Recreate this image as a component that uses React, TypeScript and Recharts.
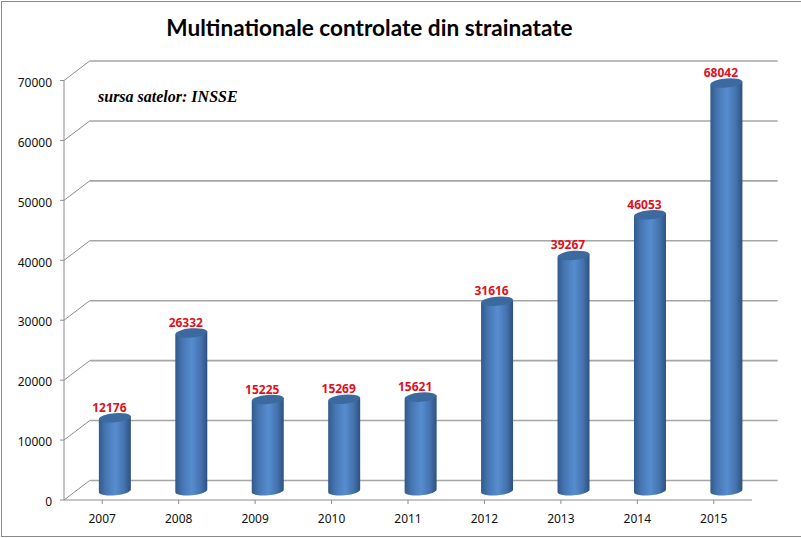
import { BarChart, Bar, XAxis, YAxis, CartesianGrid, LabelList } from "recharts";

const years = ["2007", "2008", "2009", "2010", "2011", "2012", "2013", "2014", "2015"];
const companies = [12176, 26332, 15225, 15269, 15621, 31616, 39267, 46053, 68042];
const yTicks = [0, 10000, 20000, 30000, 40000, 50000, 60000, 70000];

const chartData = years.map((year, i) => ({ year, companies: companies[i] }));

// depth of the fake 3D box (back wall is shifted by this much)
const DEPTH_X = 25.7;
const DEPTH_Y = 19.5;
const AXIS_COLOR = "#8c8c8c";
const GRID_COLOR = "#a6a6a6";
const AXIS_FONT = { fontSize: 12, fontFamily: "'Noto Sans'", fill: "#111" };

const GridLine = (props: any) => {
  const { x1, x2, y1 } = props;
  return (
    <g fill="none">
      <path d={`M${x1} ${y1}L${x1 + DEPTH_X} ${y1 - DEPTH_Y}`} stroke={AXIS_COLOR} strokeWidth={1} />
      <path d={`M${x1 + DEPTH_X} ${y1 - DEPTH_Y}H${x2 + DEPTH_X}`} stroke={GRID_COLOR} strokeWidth={1.6} />
    </g>
  );
};

// bars stand in the middle of the floor depth
const Cylinder = (props: any) => {
  const { x, y, width, height } = props;
  const left = x + DEPTH_X / 2;
  const top = y - DEPTH_Y / 2 + 0.5;
  const right = left + width;
  const bottom = top + height;
  const rx = width / 2;
  const ry = 4.6;
  const cx = left + rx;
  return (
    <g>
      <path
        d={`M${left} ${top + 1.5}L${left} ${bottom + 1.5}A${rx} ${ry} -5 0 0 ${right} ${bottom - 1.5}L${right} ${top - 1.5}Z`}
        fill="url(#cylinderSide)"
      />
      <ellipse cx={cx} cy={top} rx={rx} ry={ry} fill="#3d6a9e" transform={`rotate(-5 ${cx} ${top})`} />
    </g>
  );
};

const BarValue = (props: any) => {
  const { x, y, width, value } = props;
  return (
    <text
      x={x + width / 2 + DEPTH_X / 2 - 5.5}
      y={y - DEPTH_Y / 2 - 5.5}
      textAnchor="middle"
      fontSize={12}
      fontWeight="bold"
      fontFamily="'Noto Sans'"
      fill="#e0101c"
    >
      {value}
    </text>
  );
};

export default function App() {
  return (
    <div
      style={{
        position: "absolute",
        left: 0,
        top: 0,
        width: 801,
        height: 538,
        background: "#fff",
        overflow: "hidden",
      }}
    >
      <div
        style={{
          position: "absolute",
          left: 1,
          top: 1,
          width: 830,
          height: 534,
          border: "1px solid #8a8a8a",
        }}
      />
      <BarChart
        width={801}
        height={538}
        data={chartData}
        margin={{ top: 80.5, right: 49, bottom: 8, left: 0 }}
        barSize={32}
      >
        <defs>
          <linearGradient id="cylinderSide" x1="0" y1="0" x2="1" y2="0">
            <stop offset="0%" stopColor="#315a8d" />
            <stop offset="22%" stopColor="#4676b2" />
            <stop offset="52%" stopColor="#568dd0" />
            <stop offset="80%" stopColor="#4472ad" />
            <stop offset="100%" stopColor="#2d5180" />
          </linearGradient>
        </defs>
        <CartesianGrid vertical={false} horizontal={(p: any) => <GridLine {...p} key={p.key} />} />
        <XAxis
          dataKey="year"
          height={30}
          tick={AXIS_FONT}
          tickLine={{ stroke: AXIS_COLOR }}
          axisLine={{ stroke: AXIS_COLOR }}
          tickSize={4}
          tickMargin={10}
          interval={0}
        />
        <YAxis
          width={64}
          domain={[0, 70000]}
          ticks={yTicks}
          tick={{ ...AXIS_FONT, dy: 2 }}
          tickLine={{ stroke: AXIS_COLOR }}
          axisLine={{ stroke: AXIS_COLOR }}
          tickSize={4}
          tickMargin={8}
          interval={0}
        />
        <Bar dataKey="companies" shape={<Cylinder />} isAnimationActive={false}>
          <LabelList dataKey="companies" content={<BarValue />} />
        </Bar>
        <text x={369.5} y={36} textAnchor="middle" fontSize={22.6} fontWeight="bold" fontFamily="Lato" fill="#000">
          Multinationale controlate din strainatate
        </text>
        <text
          x={98}
          y={102}
          fontSize={16}
          fontWeight="bold"
          fontStyle="italic"
          fontFamily="'Liberation Serif'"
          fill="#000"
        >
          sursa satelor: INSSE
        </text>
      </BarChart>
    </div>
  );
}
